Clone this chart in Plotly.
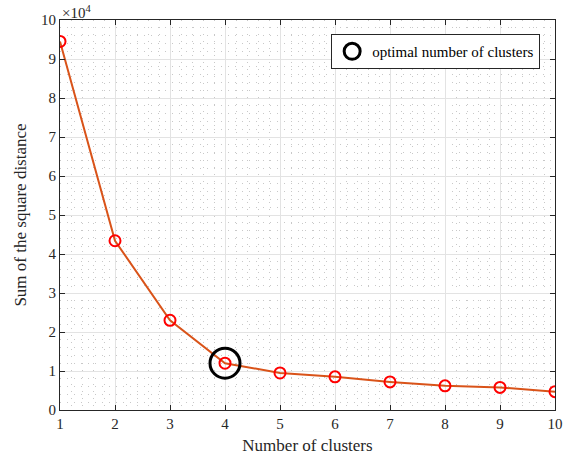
import plotly.graph_objects as go

clusters = [1, 2, 3, 4, 5, 6, 7, 8, 9, 10]
sse = [94500, 43400, 23000, 12000, 9500, 8500, 7200, 6200, 5800, 4700]
optimal_k = 4
optimal_sse = 12000
y_tick_vals = [0, 10000, 20000, 30000, 40000, 50000, 60000, 70000, 80000, 90000, 100000]
y_tick_text = ["0", "1", "2", "3", "4", "5", "6", "7", "8", "9", "10"]

FONT = "Liberation Serif"

fig = go.Figure()
fig.add_trace(go.Scatter(
    x=clusters, y=sse, mode="lines+markers",
    line=dict(color="#D95319", width=2),
    marker=dict(symbol="circle-open", size=11, color="#FF0000", line=dict(width=2, color="#FF0000")),
    showlegend=False, hoverinfo="skip"))
fig.add_trace(go.Scatter(
    x=[optimal_k], y=[optimal_sse], mode="markers",
    marker=dict(symbol="circle-open", size=30, color="black", line=dict(width=3, color="black")),
    name="optimal number of clusters", showlegend=True))

axis_common = dict(
    showline=True, linecolor="#262626", linewidth=1, mirror="ticks",
    ticks="inside", ticklen=5, tickcolor="#262626",
    showgrid=True, gridcolor="#E3E3E3", gridwidth=1, automargin=False,
    zeroline=False, tickfont=dict(family=FONT, size=15, color="#262626"),
)

fig.update_xaxes(
    range=[1, 10], tickvals=clusters, **axis_common,
    title=dict(text="Number of clusters", font=dict(family=FONT, size=17, color="#262626"), standoff=8),
    minor=dict(dtick=0.2, showgrid=True, gridcolor="#C8C8C8", griddash="1px,6px", gridwidth=1, ticks=""),
)
fig.update_yaxes(
    range=[0, 100000], tickvals=y_tick_vals, ticktext=y_tick_text, **axis_common,
    title=dict(text="Sum of the square distance", font=dict(family=FONT, size=17, color="#262626"), standoff=10),
    minor=dict(dtick=2000, showgrid=True, gridcolor="#C8C8C8", griddash="1px,6px", gridwidth=1, ticks=""),
)

fig.add_annotation(x=0, y=1, xref="paper", yref="paper", xanchor="left", yanchor="bottom",
                   text="×10<sup>4</sup>", showarrow=False,
                   font=dict(family=FONT, size=15, color="#262626"), yshift=-3)

fig.update_layout(
    width=566, height=457,
    margin=dict(l=60, r=11, t=20, b=47),
    plot_bgcolor="white", paper_bgcolor="white",
    legend=dict(x=0.97, y=0.964, xanchor="right", yanchor="top",
                bgcolor="white", bordercolor="#262626", borderwidth=1,
                font=dict(family=FONT, size=15, color="black"), itemsizing="trace"),
)

fig.write_html("out.html")
